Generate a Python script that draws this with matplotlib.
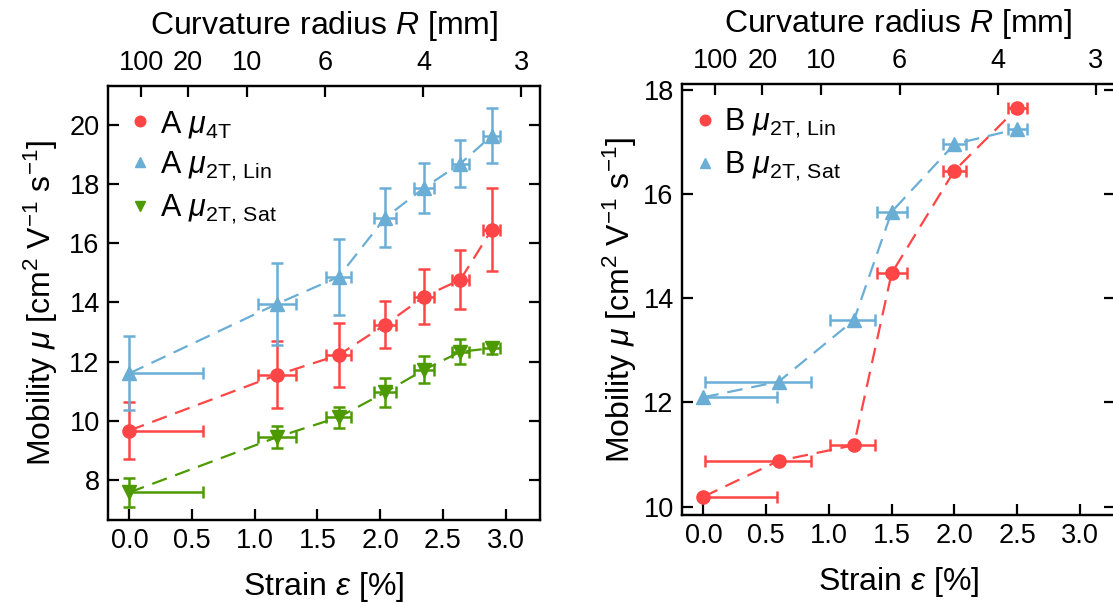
import numpy as np
import matplotlib
matplotlib.use("Agg")
import matplotlib.pyplot as plt

plt.rcParams['font.family'] = ['Liberation Sans', 'DejaVu Sans']
plt.rcParams['mathtext.fontset'] = 'custom'
plt.rcParams['mathtext.rm'] = 'Liberation Sans'
plt.rcParams['mathtext.it'] = 'Liberation Sans:italic'

# sample A
strain_A = [0.0, 1.18, 1.67, 2.04, 2.35, 2.64, 2.89]
xerr_A_lo = [0.0, 0.15, 0.10, 0.09, 0.08, 0.07, 0.067]
xerr_A_hi = [0.59, 0.15, 0.10, 0.09, 0.08, 0.07, 0.067]
mu4T_A = [9.67, 11.55, 12.22, 13.24, 14.19, 14.76, 16.45]
mu4T_A_err = [0.95, 1.13, 1.07, 0.80, 0.92, 1.00, 1.40]
mu2T_lin_A = [11.60, 13.95, 14.86, 16.85, 17.86, 18.68, 19.62]
mu2T_lin_A_err = [1.25, 1.38, 1.28, 1.00, 0.84, 0.80, 0.93]
mu2T_sat_A = [7.58, 9.45, 10.12, 10.96, 11.72, 12.33, 12.45]
mu2T_sat_A_err = [0.48, 0.37, 0.36, 0.50, 0.45, 0.42, 0.19]

# sample B
strain_B = [0.0, 0.60, 1.20, 1.50, 2.00, 2.50]
xerr_B_lo = [0.0, 0.59, 0.19, 0.12, 0.09, 0.075]
xerr_B_hi = [0.59, 0.26, 0.17, 0.12, 0.09, 0.075]
mu2T_lin_B = [10.19, 10.88, 11.18, 14.48, 16.45, 17.65]
mu2T_sat_B = [12.10, 12.40, 13.58, 15.66, 16.96, 17.25]

# top axis: curvature radius, strain[%] = K / R[mm]
K = 9.38
R_ticks = [100, 20, 10, 6, 4, 3]

red = '#ff4545'
blue = '#6aaed6'
green = '#4c9a00'

fig = plt.figure(figsize=(11.13, 6.03), dpi=100)
axA = fig.add_axes([108 / 1113, 1 - 520 / 603, 432 / 1113, 434 / 603])
axB = fig.add_axes([682 / 1113, 1 - 515 / 603, 433 / 1113, 431 / 603])


def series(ax, x, y, xlo, xhi, yerr, color, marker, label):
    ax.plot(x, y, ls=(0, (7, 4)), lw=1.6, color=color, zorder=2)
    ax.errorbar(x, y, yerr=yerr, xerr=[xlo, xhi], fmt='none', ecolor=color,
                elinewidth=1.8, capsize=4.5, capthick=1.8, zorder=3)
    ax.plot(x, y, ls='none', marker=marker, ms=9.5, color=color, label=label,
            zorder=4)


def style(ax, xlim, ylim, yticks, label_x):
    ax.set_xlim(*xlim)
    ax.set_ylim(*ylim)
    ax.set_xticks(np.arange(0, 3.01, 0.5))
    ax.set_xticklabels(['%.1f' % v for v in np.arange(0, 3.01, 0.5)])
    ax.set_yticks(yticks)
    ax.tick_params(direction='in', length=8, width=1.6, labelsize=19.5,
                   right=True, pad=6)
    for s in ax.spines.values():
        s.set_linewidth(1.6)
    ax.set_xlabel(r'Strain $\varepsilon$ [%]', fontsize=23, labelpad=11)
    ax.set_ylabel(r'Mobility $\mu$ [cm$^{2}$ V$^{-1}$ s$^{-1}$]', fontsize=23)
    ax.yaxis.set_label_coords(label_x, 0.5)
    top = ax.twiny()
    top.set_xlim(ax.get_xlim())
    top.set_xticks([K / r for r in R_ticks])
    top.set_xticklabels([str(r) for r in R_ticks])
    top.tick_params(direction='in', length=8, width=1.6, labelsize=19.5, pad=7)
    for s in top.spines.values():
        s.set_linewidth(1.6)
    top.set_xlabel(r'Curvature radius $R$ [mm]', fontsize=23, labelpad=12)


series(axA, strain_A, mu4T_A, xerr_A_lo, xerr_A_hi, mu4T_A_err, red, 'o',
       r'A $\mu_{\mathrm{4T}}$')
series(axA, strain_A, mu2T_lin_A, xerr_A_lo, xerr_A_hi, mu2T_lin_A_err, blue, '^',
       r'A $\mu_{\mathrm{2T,\,Lin}}$')
series(axA, strain_A, mu2T_sat_A, xerr_A_lo, xerr_A_hi, mu2T_sat_A_err, green, 'v',
       r'A $\mu_{\mathrm{2T,\,Sat}}$')
style(axA, (-0.17, 3.275), (6.65, 21.3), [8, 10, 12, 14, 16, 18, 20], -0.112)

series(axB, strain_B, mu2T_lin_B, xerr_B_lo, xerr_B_hi, None, red, 'o',
       r'B $\mu_{\mathrm{2T,\,Lin}}$')
series(axB, strain_B, mu2T_sat_B, xerr_B_lo, xerr_B_hi, None, blue, '^',
       r'B $\mu_{\mathrm{2T,\,Sat}}$')
style(axB, (-0.17, 3.28), (9.84, 18.115), [10, 12, 14, 16, 18], -0.1)

for ax, anchor in ((axA, (0.008, 0.983)), (axB, (-0.015, 0.983))):
    ax.legend(loc='upper left', bbox_to_anchor=anchor, frameon=False,
              fontsize=22, handletextpad=0.2, handlelength=0.9,
              markerscale=0.8, labelspacing=0.32, borderaxespad=0,
              borderpad=0.5)

fig.savefig('out.png', dpi=100)
